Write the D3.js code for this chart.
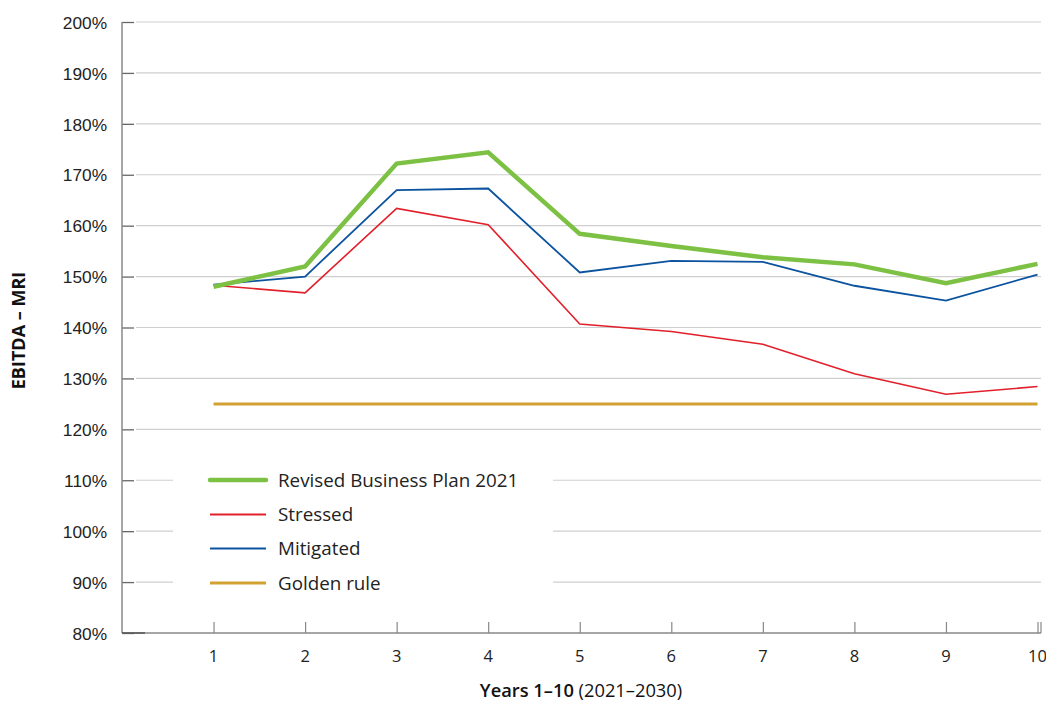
<!DOCTYPE html>
<html>
<head>
<meta charset="utf-8">
<script src="https://cdn.jsdelivr.net/npm/d3@7/dist/d3.min.js"></script>
<style>
  html, body { margin: 0; padding: 0; background: #fff; }
  svg { display: block; font-family: "Open Sans", Lato, sans-serif; }
</style>
</head>
<body>
<svg id="chart" width="1046" height="702"></svg>
<script>
// Years along the x axis
const years = [1, 2, 3, 4, 5, 6, 7, 8, 9, 10];

// EBITDA – MRI ratios (%) per scenario
const revisedPlan = [148.0, 152.0, 172.2, 174.4, 158.4, 156.0, 153.8, 152.4, 148.7, 152.5];
const stressed    = [148.3, 146.8, 163.4, 160.2, 140.7, 139.2, 136.7, 130.9, 126.9, 128.4];
const mitigated   = [148.4, 150.0, 167.0, 167.3, 150.8, 153.1, 152.9, 148.2, 145.3, 150.4];
const goldenRule  = [125, 125, 125, 125, 125, 125, 125, 125, 125, 125];

// Axis ticks
const yTicks = [80, 90, 100, 110, 120, 130, 140, 150, 160, 170, 180, 190, 200];
const xTickLabels = ["1", "2", "3", "4", "5", "6", "7", "8", "9", "10"];

const seriesNames = ["Revised Business Plan 2021", "Stressed", "Mitigated", "Golden rule"];

const series = [
  { name: seriesNames[0], values: revisedPlan, color: "#7cc143", width: 4.5 },
  { name: seriesNames[1], values: stressed,    color: "#e1202b", width: 1.6 },
  { name: seriesNames[2], values: mitigated,   color: "#0b539f", width: 1.8 },
  { name: seriesNames[3], values: goldenRule,  color: "#d3a032", width: 3 }
];

const svg = d3.select("#chart");
const plotL = 122, plotR = 1041, plotT = 22, plotB = 633;

const x = d3.scaleLinear().domain([0, 10]).range([plotL, 1037.5]);
const y = d3.scaleLinear().domain([80, 200]).range([plotB, plotT]);

// Horizontal gridlines
svg.append("g")
  .selectAll("line")
  .data(yTicks.filter(t => t > 80))
  .join("line")
  .attr("x1", plotL + 14).attr("x2", plotR)
  .attr("y1", d => y(d)).attr("y2", d => y(d))
  .attr("stroke", "#cfcfcf").attr("stroke-width", 1.2);

// Left axis
const yAxis = d3.axisRight(y)
  .tickValues(yTicks)
  .tickSize(12)
  .tickFormat(d => d + "%");
const gy = svg.append("g").attr("transform", `translate(${plotL},0)`).call(yAxis);
gy.select(".domain").remove();
gy.selectAll(".tick line").attr("stroke", "#666").attr("stroke-width", 1.3);
gy.selectAll(".tick text")
  .attr("x", -15)
  .attr("text-anchor", "end")
  .attr("dy", "0.36em")
  .attr("fill", "#222")
  .style("font-size", "17.3px");
svg.append("line")
  .attr("x1", plotL).attr("x2", plotL).attr("y1", plotT).attr("y2", plotB)
  .attr("stroke", "#888").attr("stroke-width", 1.5);

// Bottom axis
const xAxis = d3.axisTop(x)
  .tickValues(years)
  .tickSize(11)
  .tickFormat("");
const gx = svg.append("g").attr("transform", `translate(0,${plotB})`).call(xAxis);
gx.select(".domain").remove();
gx.selectAll(".tick line").attr("stroke", "#888").attr("stroke-width", 1.2);
svg.append("line")
  .attr("x1", plotL).attr("x2", plotR).attr("y1", plotB).attr("y2", plotB)
  .attr("stroke", "#888").attr("stroke-width", 1.5);
svg.append("line")
  .attr("x1", plotL).attr("x2", plotL + 23).attr("y1", plotB).attr("y2", plotB)
  .attr("stroke", "#555").attr("stroke-width", 1.5);
svg.append("line")
  .attr("x1", plotR).attr("x2", plotR).attr("y1", plotB - 11).attr("y2", plotB)
  .attr("stroke", "#888").attr("stroke-width", 1.2);

svg.append("g")
  .selectAll("text")
  .data(years)
  .join("text")
  .attr("x", d => x(d))
  .attr("y", 662)
  .attr("text-anchor", "middle")
  .attr("fill", "#222")
  .style("font-size", "16.5px")
  .text((d, i) => xTickLabels[i]);

// Series lines (golden rule first so the others sit above it)
const line = d3.line().x((d, i) => x(years[i])).y(d => y(d));
const drawOrder = [series[3], series[1], series[2], series[0]];
svg.append("g")
  .selectAll("path")
  .data(drawOrder)
  .join("path")
  .attr("d", d => line(d.values))
  .attr("fill", "none")
  .attr("stroke", d => d.color)
  .attr("stroke-width", d => d.width)
  .attr("stroke-linejoin", "miter");

// Legend
const legend = svg.append("g");
legend.append("rect")
  .attr("x", 173).attr("y", 462).attr("width", 380).attr("height", 136)
  .attr("fill", "#fff");
const rowY = [480, 514.5, 548.5, 583];
series.forEach((s, i) => {
  legend.append("line")
    .attr("x1", 210).attr("x2", 266)
    .attr("y1", rowY[i]).attr("y2", rowY[i])
    .attr("stroke", s.color)
    .attr("stroke-width", i === 0 ? 4.5 : (i === 3 ? 3 : 2))
    .attr("stroke-linecap", i === 0 ? "round" : "butt");
  legend.append("text")
    .attr("x", 278).attr("y", rowY[i])
    .attr("dy", "0.36em")
    .attr("fill", "#222")
    .style("font-size", "18.8px")
    .text(s.name);
});

// Axis titles
svg.append("text")
  .attr("transform", `translate(25,${(plotT + plotB) / 2 + 3}) rotate(-90)`)
  .attr("text-anchor", "middle")
  .attr("fill", "#111")
  .style("font-size", "18px")
  .style("font-weight", "bold")
  .text("EBITDA – MRI");

const xt = svg.append("text")
  .attr("x", 581).attr("y", 697)
  .attr("text-anchor", "middle")
  .attr("fill", "#111")
  .style("font-size", "18.3px");
xt.append("tspan").style("font-weight", "600").text("Years 1–10");
xt.append("tspan").text(" (2021–2030)");
</script>
</body>
</html>
